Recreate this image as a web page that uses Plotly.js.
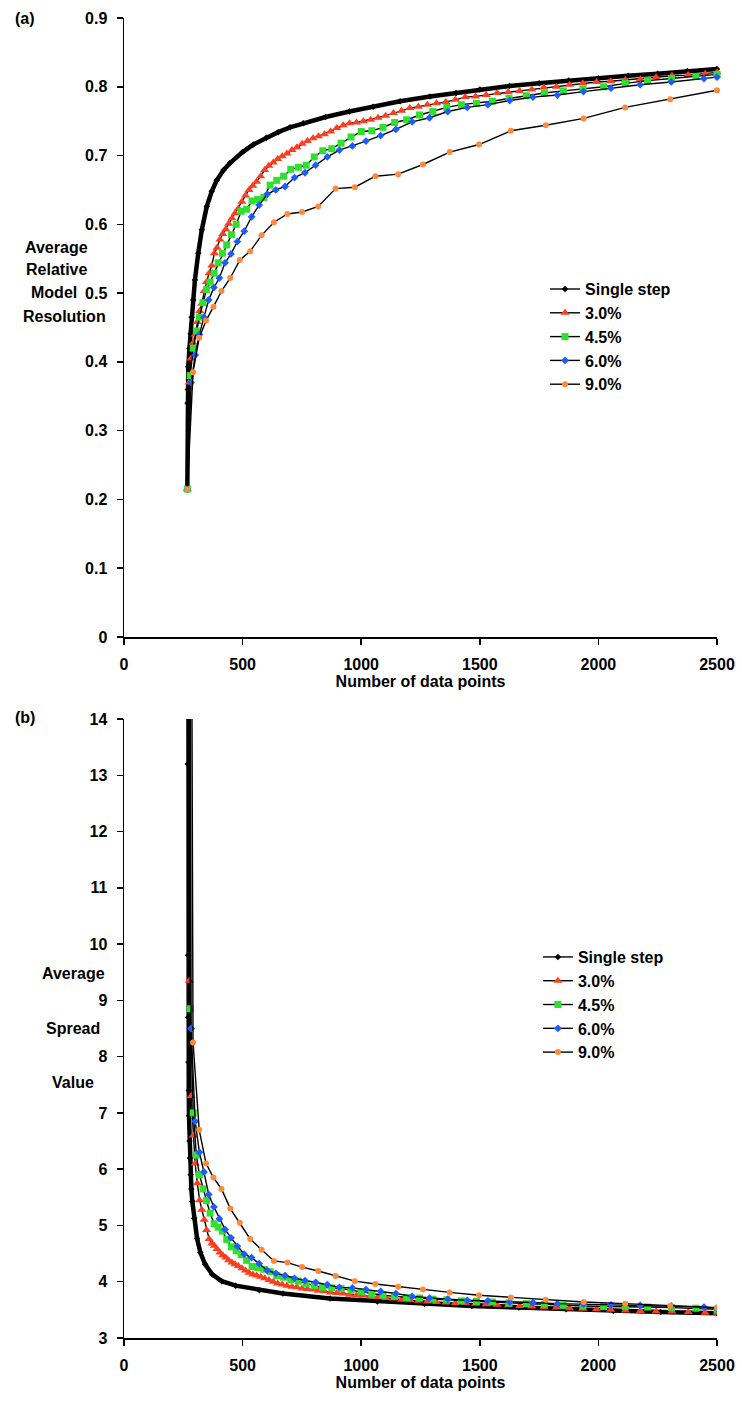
<!DOCTYPE html>
<html>
<head>
<meta charset="utf-8">
<script src="https://cdn.plot.ly/plotly-3.0.1.min.js"></script>
<style>html,body{margin:0;padding:0;background:#fff;}#chart{width:742px;height:1403px;}</style>
</head>
<body>
<div id="chart"></div>
<script>
// ---------- Panel (a): Average Relative Model Resolution ----------
const singleA_x = [267,268,269,271,276,281,285,292,299,313,328,349,370,391,420,447,500,545,600,650,700,756,850,950,1050,1164,1290,1400,1500,1625,1750,1875,2000,2125,2250,2375,2500];
const singleA_y = [0.215,0.34,0.36,0.393,0.42,0.441,0.465,0.49,0.519,0.558,0.592,0.626,0.648,0.664,0.679,0.689,0.705,0.716,0.726,0.734,0.741,0.747,0.756,0.764,0.771,0.779,0.786,0.791,0.796,0.801,0.805,0.809,0.812,0.816,0.819,0.823,0.826];

const p30_x = [267,275,283,292,300,309,319,328,338,348,359,370,381,392,404,416,429,441,455,468,482,497,512,527,543,559,576,593,611,629,648,667,687,708,729,751,773,797,820,845,871,897,924,951,980,1009,1040,1071,1103,1136,1170,1205,1241,1279,1317,1357,1397,1439,1482,1527,1573,1620,1668,1719,1770,1823,1878,1934,1992,2052,2114,2177,2243,2310,2379,2450,2500];
const p30A_y = [0.215,0.37,0.405,0.428,0.44,0.458,0.474,0.485,0.503,0.516,0.529,0.54,0.558,0.566,0.578,0.586,0.593,0.601,0.609,0.616,0.623,0.633,0.642,0.65,0.656,0.662,0.67,0.679,0.685,0.69,0.695,0.699,0.703,0.708,0.712,0.717,0.721,0.725,0.728,0.731,0.735,0.74,0.744,0.747,0.748,0.75,0.752,0.755,0.758,0.762,0.765,0.769,0.771,0.774,0.776,0.778,0.781,0.785,0.786,0.788,0.791,0.792,0.794,0.796,0.799,0.8,0.803,0.805,0.807,0.808,0.81,0.811,0.814,0.816,0.817,0.819,0.821];

const p45_x = [267,279,292,305,318,333,348,363,380,397,415,433,453,473,494,517,540,564,590,616,644,673,703,735,768,802,838,876,915,957,1000,1045,1092,1141,1192,1246,1302,1361,1422,1486,1553,1623,1696,1772,1852,1935,2022,2113,2208,2308,2411,2500];
const p45A_y = [0.215,0.38,0.42,0.445,0.465,0.486,0.505,0.516,0.529,0.544,0.558,0.57,0.585,0.6,0.619,0.622,0.634,0.636,0.639,0.657,0.664,0.67,0.68,0.683,0.686,0.698,0.707,0.71,0.718,0.727,0.735,0.736,0.741,0.748,0.752,0.759,0.764,0.77,0.774,0.776,0.779,0.783,0.787,0.791,0.794,0.797,0.8,0.805,0.809,0.812,0.815,0.818];

const p60_x = [267,283,300,318,337,357,379,402,426,451,478,507,538,570,604,640,679,719,763,808,857,908,963,1020,1082,1146,1215,1288,1365,1447,1534,1626,1724,1827,1937,2053,2176,2307,2445,2500];
const p60A_y = [0.215,0.37,0.41,0.44,0.465,0.49,0.508,0.522,0.544,0.557,0.575,0.59,0.611,0.628,0.644,0.65,0.655,0.668,0.675,0.686,0.698,0.708,0.714,0.721,0.729,0.738,0.749,0.755,0.764,0.77,0.774,0.78,0.785,0.788,0.793,0.798,0.803,0.807,0.812,0.814];

const p90_x = [267,291,317,346,377,411,448,488,532,580,632,689,751,819,892,973,1060,1156,1260,1373,1497,1631,1778,1938,2113,2303,2500];
const p90A_y = [0.215,0.385,0.435,0.46,0.48,0.503,0.522,0.548,0.561,0.584,0.603,0.615,0.618,0.626,0.652,0.654,0.67,0.673,0.687,0.705,0.716,0.736,0.744,0.754,0.77,0.782,0.795];

// ---------- Panel (b): Average Spread Value ----------
const singleB_x = [267,268,269,270,271,272,273,274,276,278,281,284,288,296,308,322,342,372,412,471,571,670,869,1068,1267,1466,1665,1864,2063,2262,2500];
const singleB_y = [40,20,13.2,9.8,8.7,7.9,7.4,6.95,6.5,6.2,5.9,5.65,5.43,5.13,4.77,4.52,4.31,4.13,4.01,3.93,3.85,3.79,3.7,3.65,3.61,3.57,3.54,3.51,3.48,3.46,3.44];

const p30B_y = [40,9.35,7.3,6.6,6.1,5.75,5.45,5.28,5.1,4.92,4.76,4.68,4.64,4.58,4.52,4.47,4.43,4.38,4.34,4.31,4.28,4.24,4.2,4.16,4.13,4.11,4.09,4.06,4.03,4.0,3.97,3.95,3.93,3.91,3.9,3.88,3.87,3.86,3.84,3.83,3.81,3.8,3.79,3.77,3.76,3.75,3.74,3.73,3.71,3.7,3.68,3.67,3.66,3.65,3.64,3.63,3.62,3.62,3.61,3.6,3.59,3.58,3.57,3.56,3.55,3.54,3.53,3.52,3.51,3.5,3.49,3.48,3.47,3.47,3.46,3.45,3.45];

const p45B_y = [40,8.85,7.0,6.25,5.9,5.65,5.44,5.22,5.03,4.97,4.9,4.75,4.62,4.55,4.48,4.38,4.27,4.25,4.22,4.18,4.11,4.08,4.04,4.01,3.97,3.93,3.9,3.89,3.88,3.85,3.82,3.78,3.76,3.74,3.72,3.71,3.69,3.68,3.66,3.65,3.64,3.62,3.61,3.6,3.58,3.57,3.56,3.56,3.55,3.54,3.53,3.51];

const p60B_y = [40,8.5,6.85,6.3,5.95,5.55,5.33,5.12,4.93,4.78,4.63,4.49,4.43,4.32,4.2,4.15,4.11,4.06,4.02,3.99,3.95,3.9,3.89,3.86,3.83,3.79,3.74,3.71,3.69,3.67,3.66,3.64,3.63,3.61,3.6,3.59,3.58,3.57,3.55,3.53];

const p90B_y = [40,8.25,6.7,6.1,5.85,5.65,5.3,5.05,4.76,4.57,4.37,4.34,4.26,4.19,4.1,4.01,3.96,3.91,3.86,3.81,3.76,3.72,3.68,3.64,3.61,3.57,3.54];

const seriesNames = ["Single step","3.0%","4.5%","6.0%","9.0%"];
const markerColors = ["#000000","#ff3d1f","#2fe02f","#1f5cff","#ff8a3a"];
const markerSymbols = ["diamond","triangle-up","square","diamond","circle"];
const markerSizes = [5,8,7,6,6];
const xTickVals = [0,500,1000,1500,2000,2500];

const FONT = "Liberation Sans, Arial, Helvetica, sans-serif";

const xA = [singleA_x,p30_x,p45_x,p60_x,p90_x];
const yA = [singleA_y,p30A_y,p45A_y,p60A_y,p90A_y];
const xB = [singleB_x,p30_x,p45_x,p60_x,p90_x];
const yB = [singleB_y,p30B_y,p45B_y,p60B_y,p90B_y];

const traces = [];
function addTraces(xs, ys, xaxis, yaxis, legend, clip){
  // dense single-step band (thick line, no legend entry)
  traces.push({
    x: xs[0], y: ys[0], type:"scatter", mode:"lines", showlegend:false,
    xaxis: xaxis, yaxis: yaxis, hoverinfo:"skip",
    line:{color:"#000000", width:4.5}
  });
  for(let i=0;i<5;i++){
    traces.push({
      x: xs[i], y: ys[i], type:"scatter", mode:"lines+markers",
      name: seriesNames[i], xaxis: xaxis, yaxis: yaxis, legend: legend,
      cliponaxis: clip,
      line:{color:"#000000", width: 1.4},
      marker:{color: markerColors[i], symbol: markerSymbols[i], size: markerSizes[i], line:{width:0}}
    });
  }
}
addTraces(xA, yA, "x", "y", "legend", false);
addTraces(xB, yB, "x2", "y2", "legend2", true);

function xaxisDef(anchor){
  return {
    anchor: anchor, domain:[0,1], range:[0,2500], tickvals: xTickVals,
    showline:true, linecolor:"#000", linewidth:1.5, ticks:"outside", ticklen:6, tickwidth:1.5, tickcolor:"#000",
    showgrid:false, zeroline:false, ticklabelstandoff:6,
    tickfont:{family:FONT, size:16, color:"#000", weight:"bold"},
    title:{text:"Number of data points", font:{family:FONT, size:16, color:"#000", weight:"bold"}, standoff:2}
  };
}
function yaxisDef(anchor, domain, range, dtick){
  return {
    anchor: anchor, domain: domain, range: range, dtick: dtick, tick0: 0,
    showline:true, linecolor:"#000", linewidth:1.5, ticks:"outside", ticklen:6, tickwidth:1.5, tickcolor:"#000",
    showgrid:false, zeroline:false, ticklabelstandoff:6,
    tickfont:{family:FONT, size:16, color:"#000", weight:"bold"}
  };
}

const labelFont = {family:FONT, size:16, color:"#000", weight:"bold"};
function ann(text, x, y, xanchor){
  return {text:text, x:x, y:y, xref:"paper", yref:"paper", showarrow:false, xanchor:xanchor||"center", yanchor:"middle", font:labelFont};
}

const layout = {
  width:742, height:1403,
  margin:{l:124, r:25, t:18, b:65},
  paper_bgcolor:"#fff", plot_bgcolor:"#fff",
  font:{family:FONT, color:"#000"},
  xaxis: xaxisDef("y"),
  yaxis: yaxisDef("x", [0.53106,1], [0,0.9], 0.1),
  xaxis2: xaxisDef("y2"),
  yaxis2: yaxisDef("x2", [0,0.46894], [3,14], 1),
  legend:{x:0.71, y:0.8075, xanchor:"left", yanchor:"top", bgcolor:"rgba(0,0,0,0)", font:labelFont, tracegroupgap:0, itemwidth:30},
  legend2:{x:0.698, y:0.3015, xanchor:"left", yanchor:"top", bgcolor:"rgba(0,0,0,0)", font:labelFont, tracegroupgap:0, itemwidth:30},
  showlegend:true,
  annotations:[
    ann("(a)", -0.167, 1.0),
    ann("(b)", -0.167, 0.4697),
    ann("Average", -0.113, 0.8265),
    ann("Relative", -0.113, 0.8091),
    ann("Model", -0.118, 0.7917),
    ann("Resolution", -0.1, 0.7742),
    ann("Average", -0.086, 0.2765),
    ann("Spread", -0.086, 0.2348),
    ann("Value", -0.086, 0.1932)
  ]
};

Plotly.newPlot("chart", traces, layout, {displayModeBar:false, staticPlot:true});
</script>
</body>
</html>
